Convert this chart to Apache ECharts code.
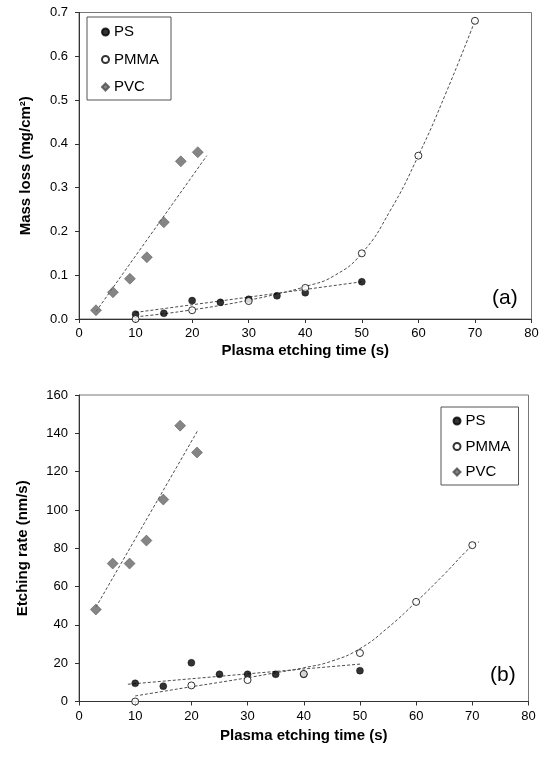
<!DOCTYPE html>
<html>
<head>
<meta charset="utf-8">
<script src="https://cdn.jsdelivr.net/npm/echarts@6/dist/echarts.min.js"></script>
<style>
  html, body { margin: 0; padding: 0; background: #fff; }
  #chart { width: 546px; height: 764px; }
</style>
</head>
<body>
<div id="chart"></div>
<script>
// Plasma etching of PS, PMMA and PVC films
const FONT = '"Liberation Sans", Arial, sans-serif';

// (a) mass loss, mg/cm2
const timesPS = [10, 15, 20, 25, 30, 35, 40, 50];
const massPS = [0.011, 0.013, 0.042, 0.038, 0.045, 0.053, 0.060, 0.085];
const timesPMMA = [10, 20, 30, 40, 50, 60, 70];
const massPMMA = [0.000, 0.020, 0.041, 0.071, 0.150, 0.373, 0.681];
const timesPVC = [3, 6, 9, 12, 15, 18, 21];
const massPVC = [0.020, 0.061, 0.092, 0.141, 0.221, 0.360, 0.381];

// (b) etching rate, nm/s
const ratePS = [9.5, 8.0, 20.2, 14.2, 14.2, 14.2, 14.2, 16.1];
const ratePMMA = [0.0, 8.4, 11.2, 14.4, 25.3, 52.0, 81.6];
const ratePVC = [48, 72, 72, 84, 105.4, 144, 130];

// trend lines (a)
const fitMassPSx = [10, 50];
const fitMassPSy = [0.015, 0.085];
const fitMassPVCx = [3, 22.6];
const fitMassPVCy = [0.017, 0.373];
const fitMassPMMAx = [10, 15, 20, 25, 30, 35, 40, 45, 50, 55, 60, 65, 70];
const fitMassPMMAy = [0.005, 0.012, 0.021, 0.031, 0.043, 0.057, 0.074, 0.098, 0.150, 0.247, 0.373, 0.520, 0.681];

// trend lines (b)
const fitRatePSx = [8.7, 50.3];
const fitRatePSy = [9.0, 19.6];
const fitRatePVCx = [3, 21.2];
const fitRatePVCy = [49.2, 141.8];
const fitRatePMMAx = [10, 15, 20, 25, 30, 35, 40, 45, 50, 55, 60, 65, 70, 71.2];
const fitRatePMMAy = [2.9, 5.3, 7.7, 10.0, 12.4, 15.0, 17.6, 21.1, 27.6, 38.6, 52.0, 66.4, 81.5, 83.3];

// axis ticks
const xTicks = { min: 0, max: 80, interval: 10 };
const massTicks = { min: 0, max: 0.7, interval: 0.1 };
const rateTicks = { min: 0, max: 160, interval: 20 };

const zip = (xs, ys) => xs.map((x, i) => [x, ys[i]]);

const styles = {
  PS: { symbol: 'circle', symbolSize: 7, itemStyle: { color: '#000', borderColor: '#000', borderWidth: 0.5 } },
  PMMA: { symbol: 'circle', symbolSize: 7, itemStyle: { color: '#fff', borderColor: '#000', borderWidth: 1 } },
  PVC: { symbol: 'diamond', symbolSize: 11, itemStyle: { color: '#666', borderColor: '#4a4a4a', borderWidth: 0.6 } }
};

function scatter(name, idx, xs, ys, z) {
  return Object.assign({
    type: 'scatter', name: name, xAxisIndex: idx, yAxisIndex: idx,
    data: zip(xs, ys), z: z, emphasis: { disabled: true }
  }, styles[name]);
}

function fit(name, idx, xs, ys, smooth) {
  return {
    type: 'line', name: name, xAxisIndex: idx, yAxisIndex: idx,
    data: zip(xs, ys), showSymbol: false, z: 1,
    smooth: smooth ? 0.5 : false,
    lineStyle: { color: '#4d4d4d', width: 1, type: [3, 2] },
    emphasis: { disabled: true }, silent: true
  };
}

function xAxis(idx, gap) {
  return {
    type: 'value', gridIndex: idx, min: xTicks.min, max: xTicks.max, interval: xTicks.interval,
    name: 'Plasma etching time (s)', nameLocation: 'middle', nameGap: gap,
    nameTextStyle: { fontFamily: FONT, fontSize: 15, fontWeight: 'bold', color: '#000' },
    axisLine: { onZero: false, lineStyle: { color: '#333', width: 1 } },
    axisTick: { show: true, length: 4, lineStyle: { color: '#333' } },
    axisLabel: { fontFamily: FONT, fontSize: 13, color: '#000', margin: 8 },
    splitLine: { show: false }
  };
}

function yAxis(idx, name, t, gap, fmt) {
  return {
    type: 'value', gridIndex: idx, min: t.min, max: t.max, interval: t.interval,
    name: name, nameLocation: 'middle', nameGap: gap, nameRotate: 90,
    nameTextStyle: { fontFamily: FONT, fontSize: 15, fontWeight: 'bold', color: '#000' },
    axisLine: { show: true, onZero: false, lineStyle: { color: '#333', width: 1 } },
    axisTick: { show: true, length: 4, lineStyle: { color: '#333' } },
    axisLabel: { fontFamily: FONT, fontSize: 13, color: '#000', margin: 11, formatter: fmt },
    splitLine: { show: false }
  };
}

function legend(left, top, padding, gap) {
  return {
    data: ['PS', 'PMMA', 'PVC'], orient: 'vertical', left: left, top: top,
    padding: padding, itemGap: gap, itemWidth: 7, itemHeight: 7,
    borderColor: '#555', borderWidth: 1, backgroundColor: '#fff',
    textStyle: { fontFamily: FONT, fontSize: 15, color: '#000', lineHeight: 16 },
    selectedMode: false
  };
}

const chart = echarts.init(document.getElementById('chart'), null, { renderer: 'canvas' });
chart.setOption({
  animation: false,
  backgroundColor: '#fff',
  grid: [
    { left: 79, right: 14.5, top: 12.5, bottom: 445, show: true, borderColor: '#777', borderWidth: 1, backgroundColor: 'transparent' },
    { left: 79, right: 17.5, top: 395, bottom: 62.5, show: true, borderColor: '#777', borderWidth: 1, backgroundColor: 'transparent' }
  ],
  xAxis: [xAxis(0, 24), xAxis(1, 27)],
  yAxis: [
    yAxis(0, 'Mass loss (mg/cm²)', massTicks, 46, v => v.toFixed(1)),
    yAxis(1, 'Etching rate (nm/s)', rateTicks, 49, v => String(v))
  ],
  legend: [
    legend(87, 17, [7, 12, 5, 14], 11.5),
    legend(441, 407, [6, 8, 5, 11.5], 9.5)
  ],
  graphic: [
    { type: 'text', left: 492, top: 288, style: { text: '(a)', font: '21px ' + FONT, fill: '#000' } },
    { type: 'text', left: 490, top: 665, style: { text: '(b)', font: '21px ' + FONT, fill: '#000' } }
  ],
  series: [
    fit('PVC fit a', 0, fitMassPVCx, fitMassPVCy, false),
    fit('PS fit a', 0, fitMassPSx, fitMassPSy, false),
    fit('PMMA fit a', 0, fitMassPMMAx, fitMassPMMAy, true),
    scatter('PS', 0, timesPS, massPS, 3),
    scatter('PMMA', 0, timesPMMA, massPMMA, 4),
    scatter('PVC', 0, timesPVC, massPVC, 3),

    fit('PVC fit b', 1, fitRatePVCx, fitRatePVCy, false),
    fit('PS fit b', 1, fitRatePSx, fitRatePSy, false),
    fit('PMMA fit b', 1, fitRatePMMAx, fitRatePMMAy, true),
    scatter('PS', 1, timesPS, ratePS, 3),
    scatter('PMMA', 1, timesPMMA, ratePMMA, 4),
    scatter('PVC', 1, timesPVC, ratePVC, 3)
  ]
});
</script>
</body>
</html>
